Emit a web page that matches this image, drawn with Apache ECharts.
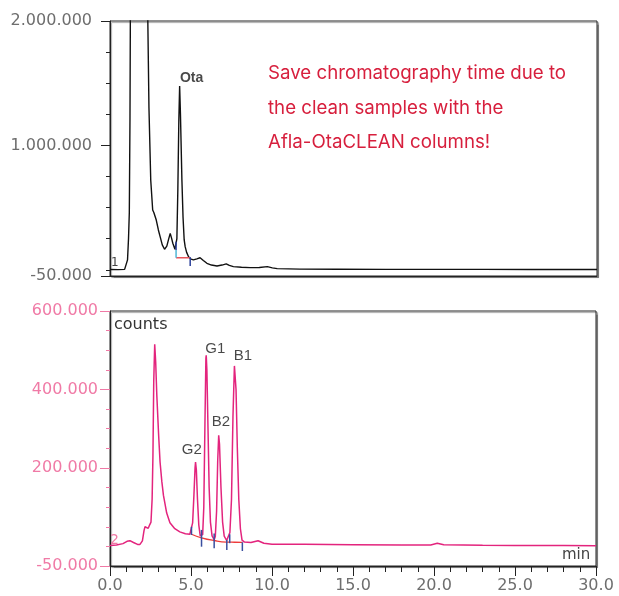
<!DOCTYPE html>
<html>
<head>
<meta charset="utf-8">
<script src="https://cdn.jsdelivr.net/npm/echarts@6/dist/echarts.min.js"></script>
<style>html,body{margin:0;padding:0;background:#fff;}#c{width:619px;height:596px;}</style>
</head>
<body>
<div id="c"></div>
<script>
// ---- Chromatogram 1 (Ota), time [min], counts
var topTrace = [
  [0,2000],[0.5,1500],[0.9,3000],[1.0,10000],[1.08,80000],[1.14,250000],[1.19,460000],[1.23,1200000],[1.27,2600000],
  [1.5,4000000],[2.0,4000000],[2.3,2300000],[2.4,1300000],[2.51,720000],[2.63,480000],[2.7,460000],[2.77,450000],
  [2.85,400000],[2.98,320000],[3.1,260000],[3.22,200000],[3.36,165000],[3.5,190000],[3.62,250000],[3.71,293000],
  [3.8,250000],[3.87,213000],[4.0,165000],[4.07,160000],[4.12,250000],[4.18,650000],[4.24,1200000],[4.29,1477000],
  [4.34,1250000],[4.43,720000],[4.5,420000],[4.57,240000],[4.63,186000],[4.72,140000],[4.84,105000],[5.0,85000],
  [5.14,79000],[5.35,88000],[5.55,97000],[5.75,75000],[5.97,52000],[6.25,38000],[6.59,30000],[6.9,38000],
  [7.16,47000],[7.35,35000],[7.6,25000],[8.1,20000],[8.63,17000],[9.2,18000],[9.69,25000],[10.0,15000],
  [10.3,9000],[11.7,5000],[14,4000],[17,3500],[20,3500],[23,3000],[26,2500],[30,2000]
];
// integration marks, chromatogram 1
var topBaseline = [[4.07,97000],[4.94,97000]];
var topCyanTicks = [[4.07,97000,160000]];
var topBlueTicks = [[4.07,160000,226000],[4.94,30000,100000]];

// ---- Chromatogram 2 (aflatoxins)
var botTrace = [
  [0,2000],[0.4,3500],[0.8,7000],[1.05,13000],[1.23,14500],[1.45,10000],[1.7,5000],[1.85,5000],[2.0,14000],
  [2.1,40000],[2.16,50000],[2.25,47000],[2.36,46000],[2.45,55000],[2.53,62000],[2.6,120000],[2.65,230000],
  [2.7,420000],[2.76,515000],[2.82,470000],[2.89,385000],[3.0,285000],[3.09,215000],[3.2,165000],[3.3,130000],
  [3.5,85000],[3.7,60000],[4.0,45000],[4.31,37000],[4.65,32000],[4.93,31000],[5.03,32000],[5.1,60000],
  [5.18,130000],[5.25,200000],[5.28,215000],[5.33,195000],[5.4,120000],[5.48,55000],[5.57,27000],[5.65,23000],
  [5.72,30000],[5.79,100000],[5.86,310000],[5.92,480000],[5.94,487000],[5.98,450000],[6.05,300000],[6.12,150000],
  [6.2,62000],[6.3,27000],[6.43,17000],[6.5,25000],[6.58,90000],[6.65,220000],[6.71,283000],[6.76,260000],
  [6.85,150000],[6.95,62000],[7.05,26000],[7.2,15000],[7.3,17000],[7.4,35000],[7.5,120000],[7.59,330000],
  [7.68,460000],[7.72,462000],[7.78,400000],[7.86,250000],[7.95,120000],[8.05,45000],[8.15,16000],[8.3,11000],
  [8.7,10000],[9.14,14500],[9.5,8000],[10,5500],[12,5400],[15,4300],[18,3600],[19.8,3600],[20.2,8000],
  [20.6,4000],[23,2800],[25,2500],[28,2000],[30,1800]
];
var botBaseline = [[5.03,31000],[5.65,22000],[6.43,15000],[7.2,11000],[7.7,10500],[8.17,10000]];
var botBlueTicks = [[5.03,29000,50000],[5.65,-800,42000],[6.43,-4800,33000],[7.21,-9000,16000],[7.39,8200,31000],[8.17,-11700,10400]];

// peak labels [time, counts, name]
var topPeakLabels = [[5.03,1540000,'Ota']];
var botPeakLabels = [[5.05,247000,'G2'],[6.50,503000,'G1'],[6.84,317000,'B2'],[8.21,485000,'B1']];

// axis ticks / labels
var topYLabels = [-50000,1000000,2000000];
var topYMinor = [0,250000,500000,750000,1250000,1500000,1750000];
var botYLabels = [-50000,200000,400000,600000];
var xInterval = 5;

var annotation = ['Save chromatography time due to','the clean samples with the','Afla-OtaCLEAN columns!'];

function fmt(v){
  var s = Math.abs(v).toString().replace(/\B(?=(\d{3})+(?!\d))/g,'.');
  return (v<0?'-':'')+s;
}
function fmtX(v){ return v.toFixed(1); }

var PINK = '#e3247d';
var PINKLAB = '#f07aa6';
var GRAY = '#6e6e6e';
var AXF = 'DejaVu Sans';

function tickSeries(data, xi, yi, color){
  return {
    type:'custom', xAxisIndex:xi, yAxisIndex:yi, data:data, silent:true, z:5,
    encode:{x:0,y:[1,2]},
    renderItem:function(params, api){
      var t = api.value(0);
      var p1 = api.coord([t, api.value(1)]);
      var p2 = api.coord([t, api.value(2)]);
      return {type:'line', shape:{x1:p1[0],y1:p1[1],x2:p2[0],y2:p2[1]}, style:{stroke:color, lineWidth:1.5}};
    }
  };
}
function labelSeries(data, xi, yi, bold){
  return {
    type:'scatter', xAxisIndex:xi, yAxisIndex:yi, data:data, symbolSize:1, silent:true, z:6,
    itemStyle:{color:'rgba(0,0,0,0)'},
    label:{show:true, position:'inside', formatter:function(p){return p.value[2];},
      color:'#1a1a1a', fontFamily:'Liberation Sans', fontSize: bold?14:15, fontWeight: bold?'bold':'normal'}
  };
}

var chart = echarts.init(document.getElementById('c'), null, {renderer:'canvas'});
var gridStyle = {show:true, borderColor:'#222', borderWidth:1, backgroundColor:'#fff',
  shadowColor:'rgba(0,0,0,0.35)', shadowOffsetX:1.5, shadowOffsetY:1.5, shadowBlur:1, containLabel:false};

chart.setOption({
  animation:false,
  grid:[
    Object.assign({left:110, right:22, top:21, height:255}, gridStyle),
    Object.assign({left:110, right:23, top:311, height:255}, gridStyle)
  ],
  xAxis:[
    {type:'value', gridIndex:0, min:0, max:30, interval:xInterval,
      axisLine:{show:true, onZero:false, lineStyle:{color:'#222', width:1}},
      axisTick:{show:false}, axisLabel:{show:false}, splitLine:{show:false}},
    {type:'value', gridIndex:1, min:0, max:30, interval:xInterval,
      axisLine:{show:true, onZero:false, lineStyle:{color:'#222', width:1}},
      axisTick:{show:true, length:10, lineStyle:{color:'#222'}},
      minorTick:{show:true, splitNumber:5, length:6, lineStyle:{color:'#222'}},
      axisLabel:{show:true, margin:12, formatter:fmtX, color:GRAY, fontFamily:AXF, fontSize:16,
        showMinLabel:true, showMaxLabel:true},
      splitLine:{show:false}, minorSplitLine:{show:false}}
  ],
  yAxis:[
    {type:'value', gridIndex:0, min:-50000, max:2000000,
      axisLine:{show:true, onZero:false, lineStyle:{color:'#222'}},
      axisTick:{show:true, length:9, customValues:topYLabels, lineStyle:{color:'#222'}},
      axisLabel:{show:true, customValues:topYLabels, margin:18, formatter:fmt, color:GRAY, fontFamily:AXF, fontSize:16},
      splitLine:{show:false}},
    {type:'value', gridIndex:0, min:-50000, max:2000000, position:'left', offset:0,
      axisLine:{show:false}, axisTick:{show:true, length:4, customValues:topYMinor, lineStyle:{color:'#222'}},
      axisLabel:{show:false}, splitLine:{show:false}},
    {type:'value', gridIndex:1, min:-50000, max:600000,
      axisLine:{show:true, onZero:false, lineStyle:{color:'#222'}},
      axisTick:{show:true, length:10, customValues:botYLabels, lineStyle:{color:PINKLAB}},
      axisLabel:{show:true, customValues:botYLabels, margin:12, formatter:fmt, color:PINKLAB, fontFamily:AXF, fontSize:16},
      splitLine:{show:false}},
    {type:'value', gridIndex:1, min:-50000, max:600000, interval:50000, position:'left', offset:0,
      axisLine:{show:false}, axisTick:{show:true, length:4, lineStyle:{color:PINKLAB}},
      axisLabel:{show:false}, splitLine:{show:false}}
  ],
  graphic:[
    {type:'text', left:268, top:64, style:{text:annotation[0], fill:'#d71f3d', font:'18.7px Inter'}},
    {type:'text', left:268, top:99, style:{text:annotation[1], fill:'#d71f3d', font:'18.7px Inter'}},
    {type:'text', left:268, top:133, style:{text:annotation[2], fill:'#d71f3d', font:'18.7px Inter'}},
    {type:'text', left:111, top:257, z:10, style:{text:'1', fill:'#444', font:'12px "DejaVu Sans"'}},
    {type:'text', left:110, top:533, z:10, style:{text:'2', fill:PINKLAB, font:'14px "DejaVu Sans"'}},
    {type:'text', left:114, top:317, z:10, style:{text:'counts', fill:'#333', font:'16px "DejaVu Sans"'}},
    {type:'text', left:562, top:548, z:10, style:{text:'min', fill:'#444', font:'15px "DejaVu Sans"'}}
  ],
  series:[
    {type:'line', xAxisIndex:0, yAxisIndex:0, data:topTrace, symbol:'none', clip:true, silent:true,
      lineStyle:{color:'#111', width:1.4}},
    {type:'line', xAxisIndex:0, yAxisIndex:0, data:topBaseline, symbol:'none', silent:true, z:4,
      lineStyle:{color:'#e8555a', width:1.5}},
    tickSeries(topCyanTicks, 0, 0, '#4fb7d6'),
    tickSeries(topBlueTicks, 0, 0, '#2a3f9a'),
    labelSeries(topPeakLabels, 0, 0, true),
    {type:'line', xAxisIndex:1, yAxisIndex:2, data:botTrace, symbol:'none', clip:true, silent:true,
      lineStyle:{color:PINK, width:1.5}},
    {type:'line', xAxisIndex:1, yAxisIndex:2, data:botBaseline, symbol:'none', smooth:true, silent:true, z:4,
      lineStyle:{color:'#ee3b3b', width:1.3}},
    tickSeries(botBlueTicks, 1, 2, '#3a4fa0'),
    labelSeries(botPeakLabels, 1, 2, false)
  ]
});
</script>
</body>
</html>
